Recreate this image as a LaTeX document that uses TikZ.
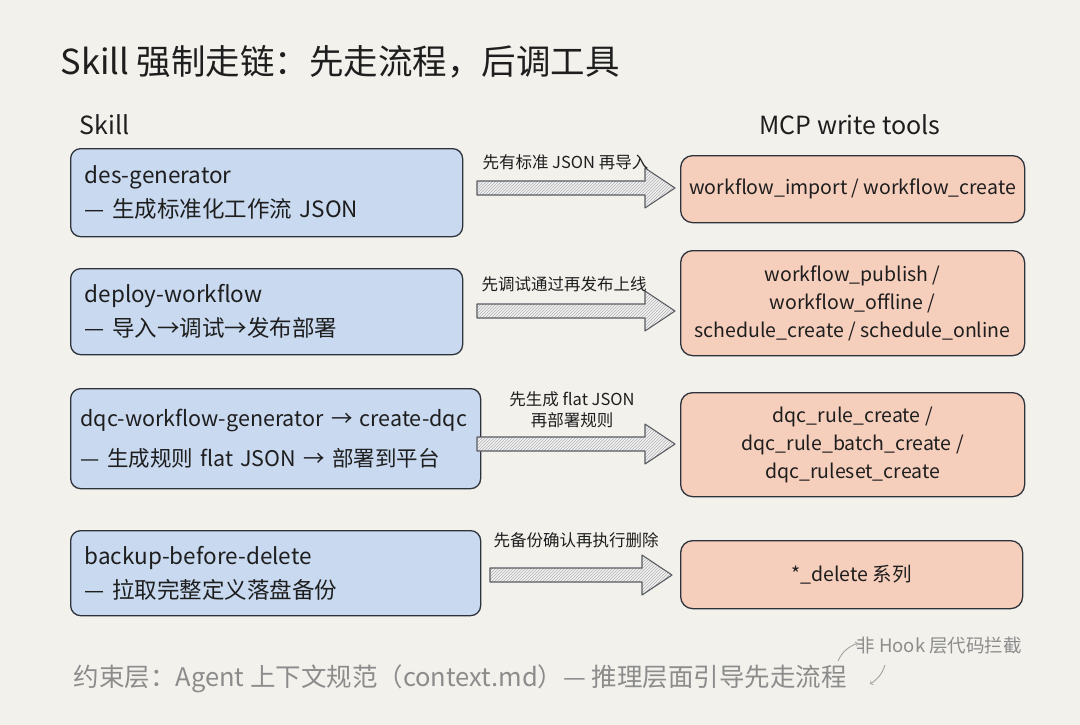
\documentclass[tikz,border=0pt]{standalone}
\usepackage{fontspec}
\setmainfont{Noto Sans CJK SC}
\usetikzlibrary{patterns,calc}
\definecolor{bg}{HTML}{F2F1EC}
\definecolor{bluef}{HTML}{C8D9F0}
\definecolor{orf}{HTML}{F6CEBC}
\definecolor{edge}{HTML}{2E323B}
\definecolor{txt}{HTML}{1E1E1E}
\definecolor{gr}{HTML}{8C8C8C}
\newcommand{\harrow}[3]{%
  \fill[white!90!gray] (#1,#3-7) -- (#2-30,#3-7) -- (#2-30,#3-20) -- (#2,#3) -- (#2-30,#3+20) -- (#2-30,#3+7) -- (#1,#3+7) -- cycle;
  \fill[pattern=north east lines,pattern color=gray!60] (#1,#3-7) -- (#2-30,#3-7) -- (#2-30,#3-20) -- (#2,#3) -- (#2-30,#3+20) -- (#2-30,#3+7) -- (#1,#3+7) -- cycle;
  \draw[draw=edge!80,line width=1.1pt,line join=round] (#1,#3-7) -- (#2-30,#3-7) -- (#2-30,#3-20) -- (#2,#3) -- (#2-30,#3+20) -- (#2-30,#3+7) -- (#1,#3+7) -- cycle;}
\begin{document}
\begin{tikzpicture}[x=1pt,y=-1pt,
  lbox/.style={draw=edge,line width=1.3pt,fill=bluef,rounded corners=10pt,anchor=north west,align=left,text=txt,font=\fontsize{22.5}{34}\selectfont,inner xsep=14pt},
  rbox/.style={draw=edge,line width=1.3pt,fill=orf,rounded corners=12pt,anchor=north west,align=center,text=txt,font=\fontsize{19.5}{28}\selectfont},
  lab/.style={font=\fontsize{16.5}{21}\selectfont,text=txt,align=center}]
\fill[bg] (0,0) rectangle (1080,725);
\useasboundingbox (0,0) rectangle (1080,725);
\node[anchor=west,font=\fontsize{34.5}{38}\selectfont,text=txt] (title) at (57,62) {Skill 强制走链：先走流程，后调工具};
\node[anchor=west,font=\fontsize{25}{28}\selectfont,text=txt] (sk) at (76,125) {Skill};
\node[font=\fontsize{25}{28}\selectfont,text=txt] (mcp) at (850,125) {MCP write tools};

\node[lbox,minimum width=392pt,minimum height=88pt,text width=364pt] (l1) at (70,148) {des-generator\\— 生成标准化工作流 JSON};
\node[lbox,minimum width=392pt,minimum height=86pt,text width=364pt] (l2) at (70,268) {deploy-workflow\\— 导入→调试→发布部署};
\node[lbox,minimum width=410pt,minimum height=100pt,text width=390pt,inner xsep=10pt,font=\fontsize{21.5}{40}\selectfont] (l3) at (70,388) {dqc-workflow-generator → create-dqc\\— 生成规则 flat JSON → 部署到平台};
\node[lbox,minimum width=410pt,minimum height=85pt,text width=382pt] (l4) at (70,530) {backup-before-delete\\— 拉取完整定义落盘备份};

\node[rbox,minimum width=344pt,minimum height=67pt] (r1) at (680,155) {workflow\_import / workflow\_create};
\node[rbox,minimum width=344pt,minimum height=105pt] (r2) at (680,250) {workflow\_publish /\\workflow\_offline /\\schedule\_create / schedule\_online};
\node[rbox,minimum width=344pt,minimum height=104pt] (r3) at (680,392) {dqc\_rule\_create /\\dqc\_rule\_batch\_create /\\dqc\_ruleset\_create};
\node[rbox,minimum width=342pt,minimum height=68pt] (r4) at (680,540) {*\_delete 系列};

\harrow{477}{675}{188}
\harrow{477}{675}{311}
\harrow{477}{675}{444}
\harrow{490}{672}{575}
\node[lab,anchor=west] (a1) at (479,162) {先有标准 JSON 再导入};
\node[lab,anchor=west] (a2) at (478,284) {先调试通过再发布上线};
\node[lab] (a3) at (572,410) {先生成 flat JSON\\再部署规则};
\node[lab,anchor=west] (a4) at (490,540) {先备份确认再执行删除};

\node[anchor=west,font=\fontsize{25.5}{29}\selectfont,text=gr] (bot) at (70,679) {约束层：Agent 上下文规范（context.md）— 推理层面引导先走流程};
\node[anchor=west,font=\fontsize{18.5}{21}\selectfont,text=gr] (note) at (853,646) {非 Hook 层代码拦截};
\draw[gr!80,line width=0.9pt,->] (838,661) .. controls (842,652) and (848,647) .. (858,643);
\draw[gr!80,line width=0.9pt,->] (885,665) .. controls (882,674) and (878,679) .. (870,684);
\end{tikzpicture}
\end{document}
